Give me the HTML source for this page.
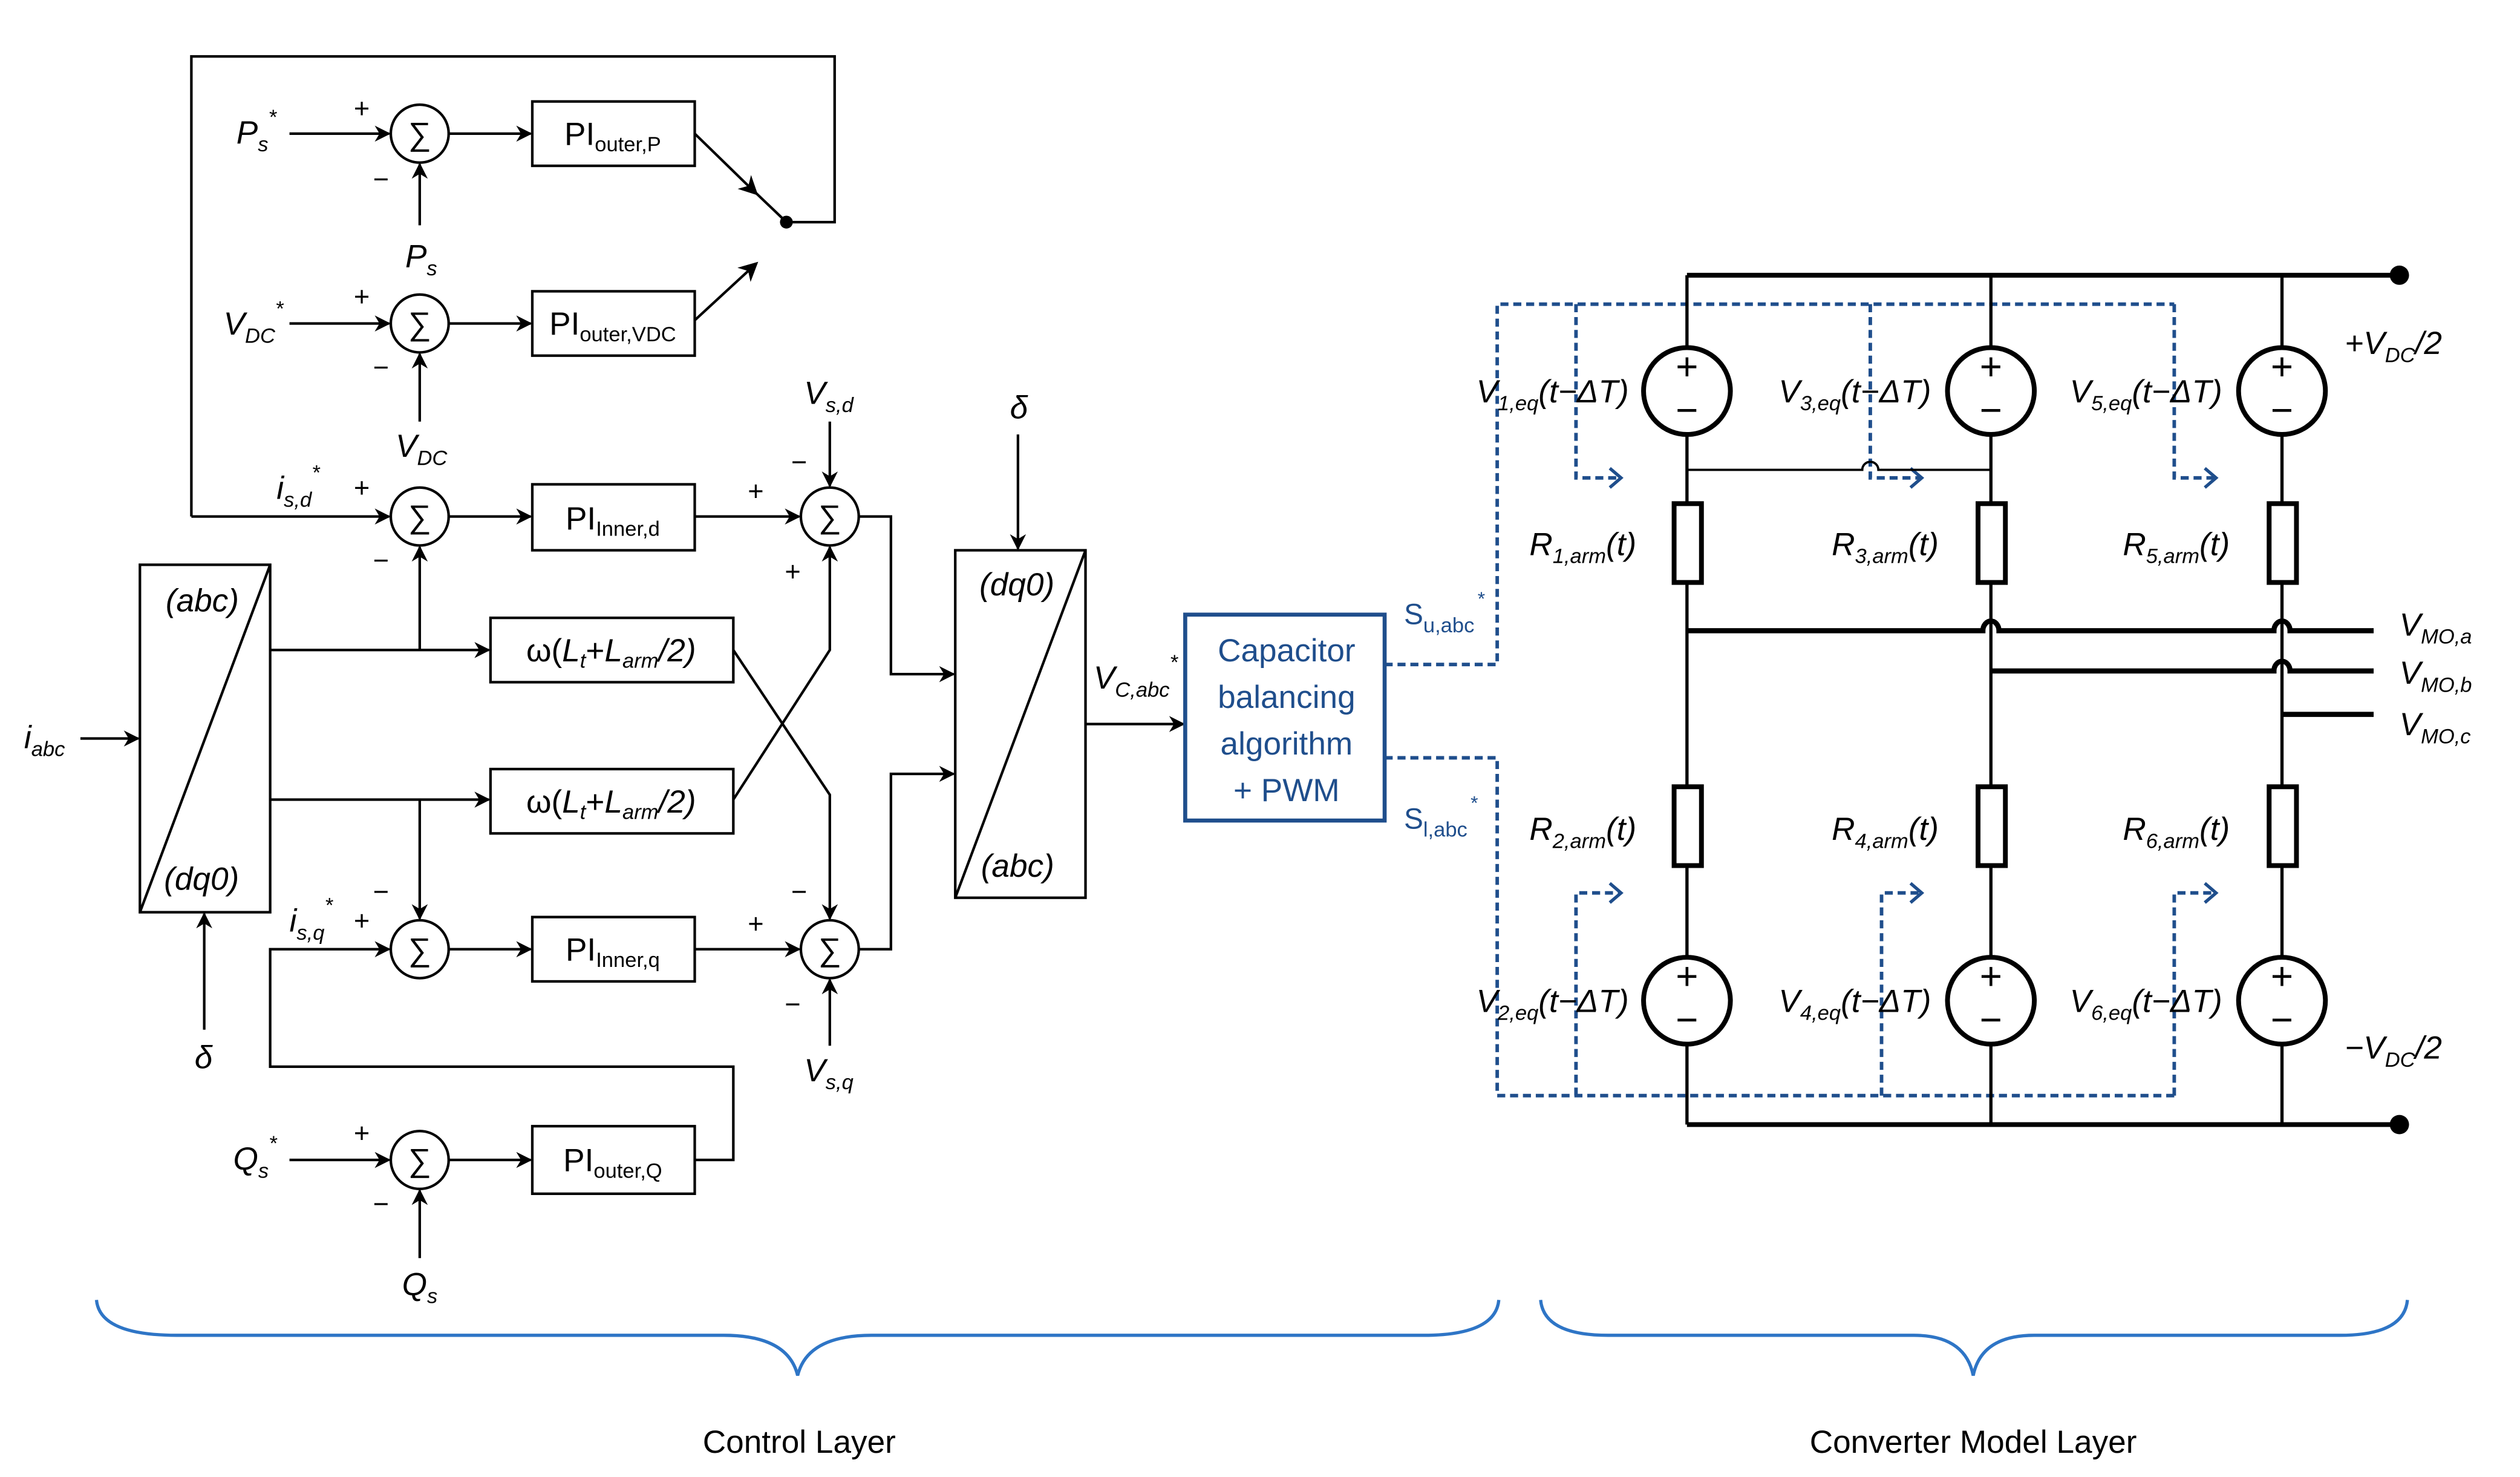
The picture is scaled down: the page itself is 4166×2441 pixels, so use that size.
<!DOCTYPE html>
<html><head><meta charset="utf-8"><style>
html,body{margin:0;padding:0;background:#fff;}
svg{display:block;}
text{font-family:"Liberation Sans",sans-serif;fill:#000;}
.it{font-style:italic;}
</style></head><body>
<svg width="4166" height="2441" viewBox="0 0 1567 918" xmlns="http://www.w3.org/2000/svg">
<defs>
<marker id="a" markerWidth="10" markerHeight="10" refX="9" refY="5" orient="auto" markerUnits="userSpaceOnUse"><path d="M0,0 L10,5 L0,10 L3,5 z" fill="#000"/></marker>
<marker id="b" markerWidth="12" markerHeight="12" refX="10" refY="6" orient="auto" markerUnits="userSpaceOnUse"><path d="M0,0 L12,6 L0,12 L3.5,6 z" fill="#000"/></marker>
<marker id="c" markerWidth="10" markerHeight="14" refX="8" refY="7" orient="auto" markerUnits="userSpaceOnUse"><path d="M1,1 L8,7 L1,13" fill="none" stroke="#1f4e8c" stroke-width="2"/></marker>
</defs>
<g stroke="#000" stroke-width="1.6" fill="none">
<polyline points="119,321 119,35 519,35 519,138 489,138"/>
<line x1="119" y1="321" x2="242" y2="321" marker-end="url(#a)"/>
<line x1="432" y1="83" x2="470" y2="120" marker-end="url(#b)"/>
<line x1="466" y1="116" x2="489" y2="138"/>
<line x1="432" y1="199" x2="470" y2="164" marker-end="url(#b)"/>
<circle cx="261" cy="83" r="18"/><circle cx="261" cy="201" r="18"/><circle cx="261" cy="321" r="18"/>
<circle cx="261" cy="590" r="18"/><circle cx="261" cy="721" r="18"/><circle cx="516" cy="321" r="18"/><circle cx="516" cy="590" r="18"/>
<rect x="331" y="63" width="101" height="40"/><rect x="331" y="181" width="101" height="40"/>
<rect x="331" y="301" width="101" height="41"/><rect x="331" y="570" width="101" height="40"/>
<rect x="331" y="700" width="101" height="42"/>
<rect x="305" y="384" width="151" height="40"/><rect x="305" y="478" width="151" height="40"/>
<rect x="87" y="351" width="81" height="216"/><line x1="87" y1="567" x2="168" y2="351"/>
<rect x="594" y="342" width="81" height="216"/><line x1="594" y1="558" x2="675" y2="342"/>
<line x1="180" y1="83" x2="242" y2="83" marker-end="url(#a)"/>
<line x1="279" y1="83" x2="330" y2="83" marker-end="url(#a)"/>
<line x1="261" y1="140" x2="261" y2="102" marker-end="url(#a)"/>
<line x1="180" y1="201" x2="242" y2="201" marker-end="url(#a)"/>
<line x1="279" y1="201" x2="330" y2="201" marker-end="url(#a)"/>
<line x1="261" y1="262" x2="261" y2="220" marker-end="url(#a)"/>
<line x1="279" y1="321" x2="330" y2="321" marker-end="url(#a)"/>
<line x1="432" y1="321" x2="497" y2="321" marker-end="url(#a)"/>
<line x1="516" y1="262" x2="516" y2="302" marker-end="url(#a)"/>
<line x1="279" y1="590" x2="330" y2="590" marker-end="url(#a)"/>
<line x1="432" y1="590" x2="497" y2="590" marker-end="url(#a)"/>
<line x1="516" y1="650" x2="516" y2="609" marker-end="url(#a)"/>
<line x1="180" y1="721" x2="242" y2="721" marker-end="url(#a)"/>
<line x1="279" y1="721" x2="330" y2="721" marker-end="url(#a)"/>
<line x1="261" y1="782" x2="261" y2="740" marker-end="url(#a)"/>
<polyline points="432,721 456,721 456,663 168,663 168,590 242,590" marker-end="url(#a)"/>
<line x1="50" y1="459" x2="86" y2="459" marker-end="url(#a)"/>
<line x1="127" y1="640" x2="127" y2="568" marker-end="url(#a)"/>
<line x1="633" y1="270" x2="633" y2="341" marker-end="url(#a)"/>
<line x1="168" y1="404" x2="304" y2="404" marker-end="url(#a)"/>
<line x1="168" y1="497" x2="304" y2="497" marker-end="url(#a)"/>
<line x1="261" y1="404" x2="261" y2="340" marker-end="url(#a)"/>
<line x1="261" y1="497" x2="261" y2="571" marker-end="url(#a)"/>
<polyline points="456,404 516,494 516,571" marker-end="url(#a)"/>
<polyline points="456,497 516,404 516,340" marker-end="url(#a)"/>
<polyline points="534,321 554,321 554,419 593,419" marker-end="url(#a)"/>
<polyline points="534,590 554,590 554,481 593,481" marker-end="url(#a)"/>
<line x1="675" y1="450" x2="736" y2="450" marker-end="url(#a)"/>
</g>
<rect x="737" y="382" width="124" height="128" fill="none" stroke="#1f4e8c" stroke-width="2.5"/>
<g font-size="20" text-anchor="middle">
<text x="800" y="411" style="fill:#1f4e8c">Capacitor</text>
<text x="800" y="440" style="fill:#1f4e8c">balancing</text>
<text x="800" y="469" style="fill:#1f4e8c">algorithm</text>
<text x="800" y="498" style="fill:#1f4e8c">+ PWM</text>
</g>
<g stroke="#1f4e8c" stroke-width="2.2" fill="none" stroke-dasharray="5,3">
<polyline points="861,413 931,413 931,189 1352,189"/>
<polyline points="980,189 980,297 1008,297" marker-end="url(#c)"/>
<polyline points="1163,189 1163,297 1195,297" marker-end="url(#c)"/>
<polyline points="1352,189 1352,297 1378,297" marker-end="url(#c)"/>
<polyline points="861,471 931,471 931,681 1352,681"/>
<polyline points="980,681 980,555 1008,555" marker-end="url(#c)"/>
<polyline points="1170,681 1170,555 1195,555" marker-end="url(#c)"/>
<polyline points="1352,681 1352,555 1378,555" marker-end="url(#c)"/>
</g>
<g stroke="#000" fill="none">
<line x1="1049" y1="171" x2="1492" y2="171" stroke-width="3"/>
<line x1="1049" y1="699" x2="1492" y2="699" stroke-width="3"/>
<g stroke-width="2">
<line x1="1049" y1="171" x2="1049" y2="699"/>
<line x1="1238" y1="171" x2="1238" y2="699"/>
<line x1="1419" y1="171" x2="1419" y2="699"/>
<path d="M1049,292 H1158 a5,5 0 0 1 10,0 H1238" stroke-width="1.4"/>
</g>
<g stroke-width="3.2">
<path d="M1049,392 H1233 a5,6 0 0 1 10,0 H1414 a5,6 0 0 1 10,0 H1476"/>
<path d="M1238,417 H1414 a5,6 0 0 1 10,0 H1476"/>
<path d="M1419,444 H1476"/>
</g>
<g stroke-width="3" fill="#fff">
<circle cx="1049" cy="243" r="27"/><circle cx="1238" cy="243" r="27"/><circle cx="1419" cy="243" r="27"/>
<circle cx="1049" cy="622" r="27"/><circle cx="1238" cy="622" r="27"/><circle cx="1419" cy="622" r="27"/>
<rect x="1041" y="313" width="17" height="49"/><rect x="1230" y="313" width="17" height="49"/><rect x="1411" y="313" width="17" height="49"/>
<rect x="1041" y="489" width="17" height="49"/><rect x="1230" y="489" width="17" height="49"/><rect x="1411" y="489" width="17" height="49"/>
</g>
</g>
<circle cx="1492" cy="171" r="6"/><circle cx="1492" cy="699" r="6"/>
<circle cx="489" cy="138" r="4"/>
<g font-size="24" text-anchor="middle">
<text x="1049" y="236">+</text><text x="1049" y="263">−</text>
<text x="1238" y="236">+</text><text x="1238" y="263">−</text>
<text x="1419" y="236">+</text><text x="1419" y="263">−</text>
<text x="1049" y="615">+</text><text x="1049" y="642">−</text>
<text x="1238" y="615">+</text><text x="1238" y="642">−</text>
<text x="1419" y="615">+</text><text x="1419" y="642">−</text>
</g>
<g stroke="#2e75c6" stroke-width="2" fill="none">
<path d="M60,808 Q62,830 110,830 H450 Q490,830 496,855 Q502,830 542,830 H885 Q930,830 932,808"/>
<path d="M958,808 Q960,830 1000,830 H1190 Q1222,830 1227,855 Q1232,830 1265,830 H1455 Q1495,830 1497,808"/>
</g>
<g font-size="20" text-anchor="middle"><text x="497" y="903">Control Layer</text><text x="1227" y="903">Converter Model Layer</text></g>
<g font-size="20" text-anchor="middle">
<text x="261" y="90">∑</text><text x="261" y="208">∑</text><text x="261" y="328">∑</text><text x="261" y="597">∑</text><text x="261" y="728">∑</text><text x="516" y="328">∑</text><text x="516" y="597">∑</text>
<text x="381" y="90">PI<tspan font-size="13" dy="4">outer,P</tspan></text>
<text x="381" y="208">PI<tspan font-size="13" dy="4">outer,VDC</tspan></text>
<text x="381" y="329">PI<tspan font-size="13" dy="4">Inner,d</tspan></text>
<text x="381" y="597">PI<tspan font-size="13" dy="4">Inner,q</tspan></text>
<text x="381" y="728">PI<tspan font-size="13" dy="4">outer,Q</tspan></text>
<text x="380" y="411">ω(<tspan class="it">L</tspan><tspan font-size="13" dy="4" class="it">t</tspan><tspan dy="-4">+</tspan><tspan class="it">L</tspan><tspan font-size="13" dy="4" class="it">arm</tspan><tspan dy="-4" class="it">/2)</tspan></text>
<text x="380" y="505">ω(<tspan class="it">L</tspan><tspan font-size="13" dy="4" class="it">t</tspan><tspan dy="-4">+</tspan><tspan class="it">L</tspan><tspan font-size="13" dy="4" class="it">arm</tspan><tspan dy="-4" class="it">/2)</tspan></text>
</g>
<g font-size="20" font-style="italic">
<text x="103" y="380">(abc)</text><text x="102" y="553">(dq0)</text>
<text x="609" y="370">(dq0)</text><text x="610" y="545">(abc)</text>
</g>
<g font-size="17">
<text x="220" y="73">+</text><text x="232" y="117">−</text>
<text x="220" y="190">+</text><text x="232" y="234">−</text>
<text x="220" y="309">+</text><text x="232" y="354">−</text>
<text x="220" y="578">+</text><text x="232" y="560">−</text>
<text x="220" y="710">+</text><text x="232" y="754">−</text>
<text x="465" y="311">+</text><text x="492" y="293">−</text><text x="488" y="361">+</text>
<text x="465" y="580">+</text><text x="492" y="560">−</text><text x="488" y="630">−</text>
</g>
<g font-size="20" font-style="italic">
<text x="147" y="89">P<tspan font-size="13" dy="5">s</tspan><tspan font-size="13" dy="-17">*</tspan></text>
<text x="252" y="166">P<tspan font-size="13" dy="5">s</tspan></text>
<text x="139" y="208">V<tspan font-size="13" dy="5">DC</tspan><tspan font-size="13" dy="-17">*</tspan></text>
<text x="246" y="284">V<tspan font-size="13" dy="5">DC</tspan></text>
<text x="172" y="310">i<tspan font-size="13" dy="5">s,d</tspan><tspan font-size="13" dy="-17">*</tspan></text>
<text x="500" y="251">V<tspan font-size="13" dy="5">s,d</tspan></text>
<text x="15" y="465">i<tspan font-size="13" dy="5">abc</tspan></text>
<text x="121" y="664">δ</text>
<text x="628" y="260">δ</text>
<text x="680" y="428">V<tspan font-size="13" dy="5">C,abc</tspan><tspan font-size="13" dy="-17">*</tspan></text>
<text x="180" y="579">i<tspan font-size="13" dy="5">s,q</tspan><tspan font-size="13" dy="-17">*</tspan></text>
<text x="500" y="672">V<tspan font-size="13" dy="5">s,q</tspan></text>
<text x="145" y="727">Q<tspan font-size="13" dy="5">s</tspan><tspan font-size="13" dy="-17">*</tspan></text>
<text x="250" y="805">Q<tspan font-size="13" dy="5">s</tspan></text>
<text x="918" y="250">V<tspan font-size="13" dy="5">1,eq</tspan><tspan dy="-5">(t−ΔT)</tspan></text>
<text x="1106" y="250">V<tspan font-size="13" dy="5">3,eq</tspan><tspan dy="-5">(t−ΔT)</tspan></text>
<text x="1287" y="250">V<tspan font-size="13" dy="5">5,eq</tspan><tspan dy="-5">(t−ΔT)</tspan></text>
<text x="918" y="629">V<tspan font-size="13" dy="5">2,eq</tspan><tspan dy="-5">(t−ΔT)</tspan></text>
<text x="1106" y="629">V<tspan font-size="13" dy="5">4,eq</tspan><tspan dy="-5">(t−ΔT)</tspan></text>
<text x="1287" y="629">V<tspan font-size="13" dy="5">6,eq</tspan><tspan dy="-5">(t−ΔT)</tspan></text>
<text x="951" y="345">R<tspan font-size="13" dy="5">1,arm</tspan><tspan dy="-5">(t)</tspan></text>
<text x="1139" y="345">R<tspan font-size="13" dy="5">3,arm</tspan><tspan dy="-5">(t)</tspan></text>
<text x="1320" y="345">R<tspan font-size="13" dy="5">5,arm</tspan><tspan dy="-5">(t)</tspan></text>
<text x="951" y="522">R<tspan font-size="13" dy="5">2,arm</tspan><tspan dy="-5">(t)</tspan></text>
<text x="1139" y="522">R<tspan font-size="13" dy="5">4,arm</tspan><tspan dy="-5">(t)</tspan></text>
<text x="1320" y="522">R<tspan font-size="13" dy="5">6,arm</tspan><tspan dy="-5">(t)</tspan></text>
<text x="1458" y="220">+V<tspan font-size="13" dy="5">DC</tspan><tspan dy="-5">/2</tspan></text>
<text x="1458" y="658">−V<tspan font-size="13" dy="5">DC</tspan><tspan dy="-5">/2</tspan></text>
<text x="1492" y="395">V<tspan font-size="13" dy="5">MO,a</tspan></text>
<text x="1492" y="425">V<tspan font-size="13" dy="5">MO,b</tspan></text>
<text x="1492" y="457">V<tspan font-size="13" dy="5">MO,c</tspan></text>
</g>
<g font-size="18">
<text x="873" y="388" style="fill:#1f4e8c">S<tspan font-size="13" dy="5" style="fill:#1f4e8c">u,abc</tspan><tspan font-size="12" dy="-17" dx="2" style="fill:#1f4e8c">*</tspan></text>
<text x="873" y="515" style="fill:#1f4e8c">S<tspan font-size="13" dy="5" style="fill:#1f4e8c">l,abc</tspan><tspan font-size="12" dy="-17" dx="2" style="fill:#1f4e8c">*</tspan></text>
</g>
</svg>
</body></html>
